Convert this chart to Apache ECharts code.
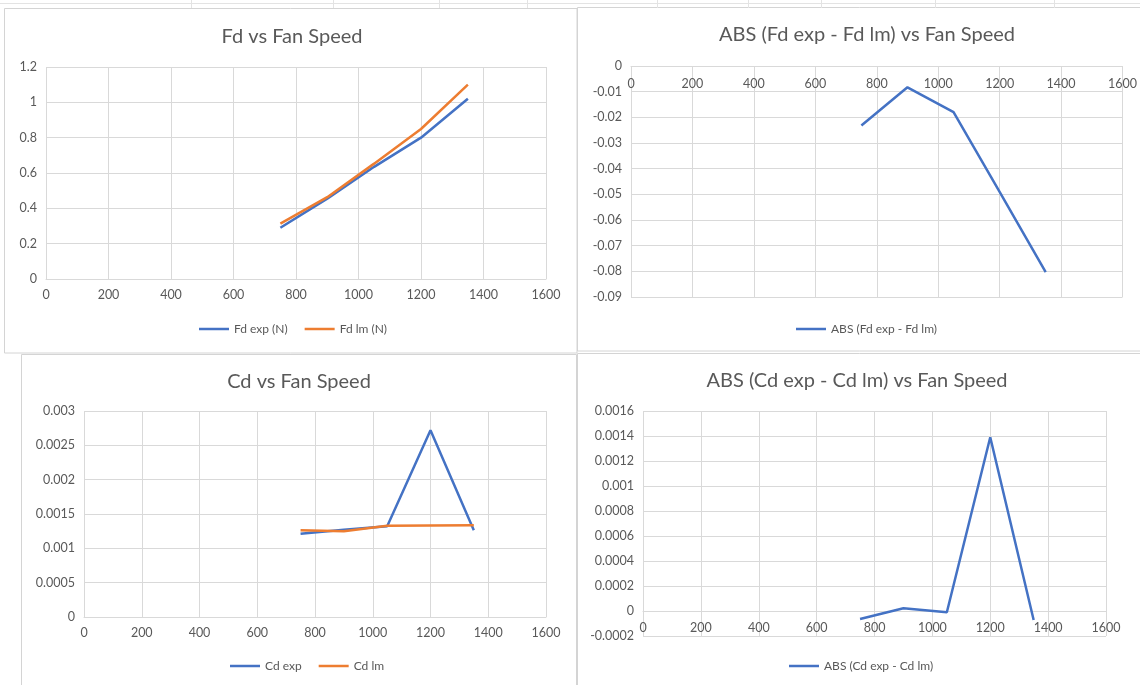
<!DOCTYPE html>
<html>
<head>
<meta charset="utf-8">
<script src="https://cdn.jsdelivr.net/npm/echarts@6/dist/echarts.min.js"></script>
<style>
html,body{margin:0;padding:0;background:#fff;}
#main{width:1140px;height:685px;}
</style>
</head>
<body>
<div id="main"></div>
<script>
// ---- data ----
const fanSpeed = [750, 900, 1050, 1200, 1350];
const fdExp = [0.29, 0.455, 0.635, 0.80, 1.02];
const fdLm = [0.313, 0.463, 0.653, 0.849, 1.10];
const fdDiff = [-0.0232, -0.0083, -0.018, -0.049, -0.0803];
const cdExp = [0.001214, 0.00127, 0.00132, 0.00272, 0.001264];
const cdLm = [0.001263, 0.001248, 0.00133, 0.001333, 0.001336];
const cdDiff = [-0.000064, 0.0000216, -0.0000104, 0.00139, -0.000072];

const titles = ['Fd vs Fan Speed', 'ABS (Fd exp - Fd lm) vs Fan Speed', 'Cd vs Fan Speed', 'ABS (Cd exp - Cd lm) vs Fan Speed'];
const seriesNames = [['Fd exp (N)', 'Fd lm (N)'], ['ABS (Fd exp - Fd lm)'], ['Cd exp', 'Cd lm'], ['ABS (Cd exp - Cd lm)']];
const yRanges = [[0, 1.2, 0.2], [-0.09, 0, 0.01], [0, 0.003, 0.0005], [-0.0002, 0.0016, 0.0002]];

const BLUE = '#4472C4', ORANGE = '#ED7D31';
const FONT = 'Lato, "Liberation Sans", sans-serif';
const TXT = '#595959', GRID = '#d9d9d9';

function pts(ys){ return fanSpeed.map((x,i)=>[x, ys[i]]); }

const grids = [
  {left:46, top:67, width:500, height:212},
  {left:631, top:66, width:492, height:231},
  {left:84, top:411, width:462, height:206},
  {left:643, top:411, width:463, height:225}
];
const titlePos = [[287, 22], [862, 20], [294, 367], [852, 366]];
const legendPos = [[194, 318], [791, 318], [225, 655], [784, 655]];
// x axis placement: where the horizontal axis crosses the value axis (at 0)
const xAxisPlace = [
  {position:'bottom', offset:0, inside:false, margin:9},
  {position:'top', offset:0, inside:true, margin:11},
  {position:'bottom', offset:0, inside:false, margin:9},
  {position:'bottom', offset:-25, inside:false, margin:10}
];

const xAxes = grids.map((g,i)=>({
  type:'value', gridIndex:i, min:0, max:1600, interval:200,
  position:xAxisPlace[i].position, offset:xAxisPlace[i].offset,
  axisLine:{show:true, onZero:false, lineStyle:{color:GRID, width:1}},
  axisTick:{show:false},
  splitLine:{show:true, lineStyle:{color:GRID, width:1}},
  axisLabel:{color:TXT, fontSize:12.5, fontFamily:FONT, margin:xAxisPlace[i].margin,
    inside:xAxisPlace[i].inside, formatter:v=>String(v)}
}));
const yAxes = grids.map((g,i)=>({
  type:'value', gridIndex:i, min:yRanges[i][0], max:yRanges[i][1], interval:yRanges[i][2],
  axisLine:{show:false}, axisTick:{show:false},
  splitLine:{show:true, lineStyle:{color:GRID, width:1}},
  axisLabel:{color:TXT, fontSize:12.5, fontFamily:FONT, margin:9}
}));

function line(name, data, color, idx){
  return {type:'line', name:name, xAxisIndex:idx, yAxisIndex:idx, data:pts(data),
    showSymbol:false, symbol:'none', lineStyle:{color:color, width:2.5}, itemStyle:{color:color},
    animation:false};
}

const series = [
  line(seriesNames[0][0], fdExp, BLUE, 0),
  line(seriesNames[0][1], fdLm, ORANGE, 0),
  line(seriesNames[1][0], fdDiff, BLUE, 1),
  line(seriesNames[2][0], cdExp, BLUE, 2),
  line(seriesNames[2][1], cdLm, ORANGE, 2),
  line(seriesNames[3][0], cdDiff, BLUE, 3)
];

const title = titles.map((t,i)=>({
  text:t, left:titlePos[i][0], top:titlePos[i][1], textAlign:'center',
  textStyle:{color:TXT, fontSize:20, fontWeight:'normal', fontFamily:FONT}
}));
const legend = seriesNames.map((names,i)=>({
  data:names, left:legendPos[i][0], top:legendPos[i][1], icon:'rect',
  itemWidth:30, itemHeight:2.5, itemGap:17, selectedMode:false,
  textStyle:{color:TXT, fontSize:12, fontFamily:FONT}
}));

// spreadsheet background + chart boxes
const graphics = [];
const sheetLine = {stroke:'#e3e3e3', lineWidth:1};
graphics.push({type:'line', shape:{x1:0,y1:3.5,x2:1140,y2:3.5}, style:sheetLine, silent:true});
[191.5, 333.5, 439.5, 527.5, 657.5, 748.5, 821.5, 935.5, 1054.5].forEach(x=>{
  graphics.push({type:'line', shape:{x1:x,y1:0,x2:x,y2:8}, style:sheetLine, silent:true});
});
const boxes = [
  [4.5, 8.5, 572.5, 344.5],
  [577.5, 7.5, 580, 343.5],
  [21.5, 354.5, 555, 340],
  [577.5, 353.5, 580, 340]
];
boxes.forEach(b=>{
  graphics.push({type:'rect', shape:{x:b[0], y:b[1], width:b[2], height:b[3]},
    style:{fill:'transparent', stroke:'#d4d4d4', lineWidth:1}, silent:true, z:-1});
});

const chart = echarts.init(document.getElementById('main'), null, {renderer:'canvas'});
chart.setOption({
  backgroundColor:'#ffffff',
  animation:false,
  title:title,
  legend:legend,
  grid:grids,
  xAxis:xAxes,
  yAxis:yAxes,
  series:series,
  graphic:graphics
});
</script>
</body>
</html>
